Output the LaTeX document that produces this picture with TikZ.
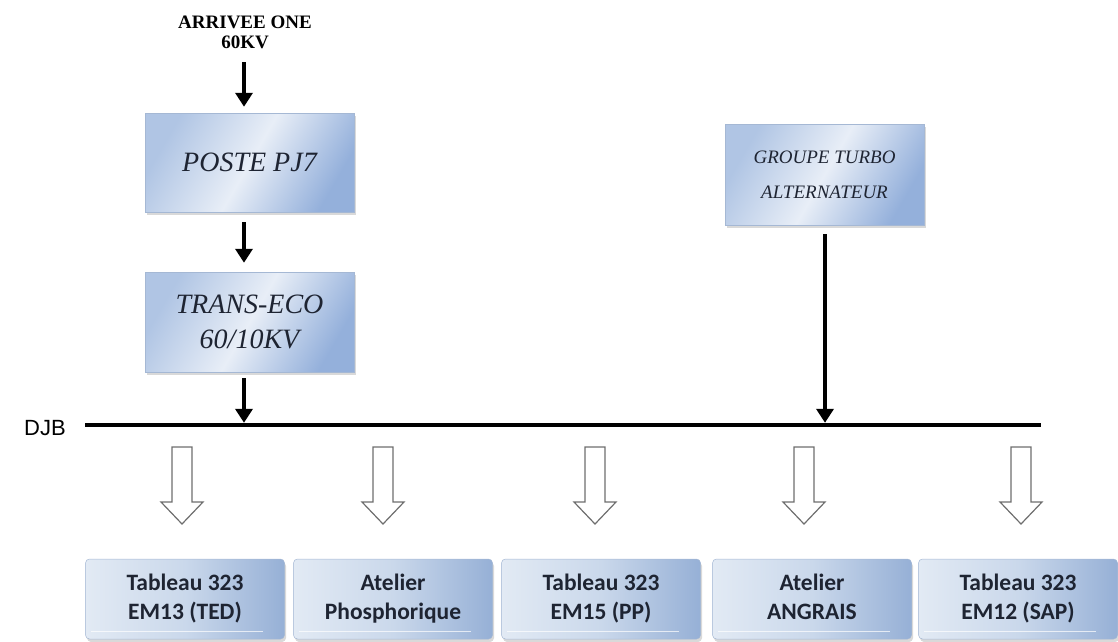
\documentclass[tikz,border=0pt]{standalone}
\usepackage{fontspec}
\setmainfont{Liberation Serif}
\newfontfamily\calfont{Carlito}
\newfontfamily\arialfont{Liberation Sans}
\usetikzlibrary{arrows.meta,shadows}
\definecolor{boxL}{RGB}{176,197,228}
\definecolor{boxM}{RGB}{232,238,247}
\definecolor{boxR}{RGB}{148,176,219}
\definecolor{bbL}{RGB}{226,234,244}
\definecolor{bbM}{RGB}{202,216,235}
\definecolor{bbR}{RGB}{150,176,214}
\definecolor{boxEdge}{RGB}{165,184,212}
\definecolor{txtc}{RGB}{30,36,50}
\definecolor{holc}{RGB}{110,110,110}
\tikzset{
  topbox/.style={draw=boxEdge, line width=0.5pt, left color=boxL, right color=boxR, middle color=boxM,
    shading angle=60, inner sep=0pt, align=center, text=txtc,
    drop shadow={shadow xshift=1.5pt, shadow yshift=-3pt, opacity=0.3}},
  botbox/.style={draw=boxEdge, line width=0.5pt, rounded corners=4pt, left color=bbL, right color=bbR, middle color=bbM,
    minimum width=199pt, minimum height=80pt, inner sep=0pt, align=center, text=txtc,
    font=\calfont\bfseries\fontsize{23.5}{29}\selectfont,
    drop shadow={shadow xshift=1.5pt, shadow yshift=-3pt, opacity=0.3}},
  blk/.style={line width=4pt, -{Triangle[length=14pt,width=17pt]}},
  hol/.style={draw=holc, line width=1.2pt, fill=white, line join=miter},
  hilite/.style={draw=white, line width=1.4pt, opacity=0.7},
}
\begin{document}
\begin{tikzpicture}[x=1pt,y=-1pt]
\useasboundingbox (0,0) rectangle (1118,641);
% coordinates of columns and bus
\coordinate (colx) at (244,0);
\coordinate (tx) at (825,0);
\coordinate (busL) at (85,425);
\coordinate (busR) at (1041,425);
% top texts and boxes
\node[font=\bfseries\fontsize{19}{20}\selectfont, align=center, anchor=south] (arr) at (245,52) {ARRIVEE ONE\\60KV};
\node[topbox, minimum width=209pt, minimum height=99pt, font=\itshape\fontsize{28}{35}\selectfont] (pj7) at (249.5,162.5) {POSTE PJ7};
\node[topbox, minimum width=209pt, minimum height=100pt, font=\itshape\fontsize{28}{35}\selectfont] (trans) at (249.5,322) {TRANS-ECO\\60/10KV};
\node[topbox, minimum width=199pt, minimum height=101pt, font=\itshape\fontsize{19}{35}\selectfont] (turbo) at (824.5,174.5) {GROUPE TURBO\\ALTERNATEUR};
% bus
\node[font=\arialfont\fontsize{22}{24}\selectfont] (djb) at (45,428) {DJB};
\draw[line width=4.5pt] (busL) -- (busR);
% black arrows
\draw[blk, shorten <=10pt, shorten >=6pt] (arr.south -| colx) -- (pj7.north -| colx);
\draw[blk, shorten <=10pt, shorten >=9pt] (pj7.south -| colx) -- (trans.north -| colx);
\draw[blk, shorten <=6pt, shorten >=2.2pt] (trans.south -| colx) -- (colx |- busL);
\draw[blk, shorten <=9pt, shorten >=2.2pt] (turbo.south -| tx) -- (tx |- busL);
% bottom boxes
\node[botbox] (b1) at (185,599) {Tableau 323\strut\\EM13 (TED)\strut};
\node[botbox] (b2) at (393,599) {Atelier\strut\\Phosphorique\strut};
\node[botbox] (b3) at (601,599) {Tableau 323\strut\\EM15 (PP)\strut};
\node[botbox] (b4) at (812,599) {Atelier\strut\\ANGRAIS\strut};
\node[botbox] (b5) at (1018,599) {Tableau 323\strut\\EM12 (SAP)\strut};
\foreach \b in {b1,b2,b3,b4,b5}{
  \draw[hilite] ([xshift=6pt,yshift=8pt]\b.south west) -- ([xshift=-22pt,yshift=8pt]\b.south east);
}
% hollow arrows
\foreach \x in {182,383,595,804,1021}{
  \draw[hol] ({\x-10},447) -- ({\x+10},447) -- ({\x+10},502) -- ({\x+21},502) -- (\x,524) -- ({\x-21},502) -- ({\x-10},502) -- cycle;
}
\end{tikzpicture}
\end{document}
